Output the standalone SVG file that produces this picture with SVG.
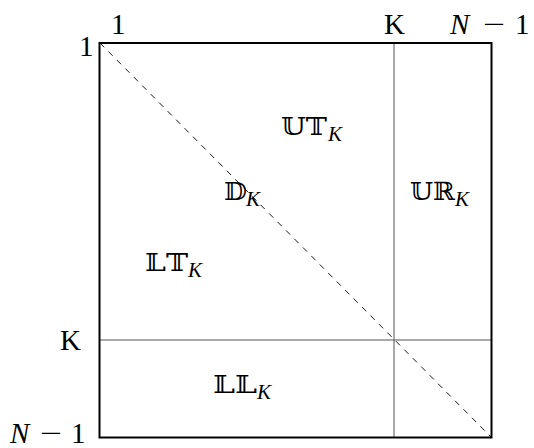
<svg xmlns="http://www.w3.org/2000/svg" width="534" height="448" viewBox="0 0 534 448">
<style>
.t{font-family:"Liberation Serif","DejaVu Serif",serif;font-size:29px;fill:#000}
.m{font-family:"DejaVu Serif","DejaVu Sans",serif;font-size:25px;fill:#000}
.i{font-style:italic}
.s{font-family:"Liberation Serif",serif;font-style:italic;font-size:21px;fill:#000}
</style>
<rect width="534" height="448" fill="#fff"/>
<g id="connectors">
<line x1="394" y1="43" x2="394" y2="437.5" stroke="#555" stroke-width="1"/>
<line x1="99.5" y1="340" x2="491.5" y2="340" stroke="#555" stroke-width="1"/>
<line x1="100" y1="43" x2="491" y2="437" stroke="#000" stroke-width="0.9" stroke-dasharray="6,6"/>
</g>
<g id="frame"><rect x="99.5" y="43" width="392" height="394.5" fill="none" stroke="#000" stroke-width="2"/></g>
<g id="axis-labels">
<text class="t" x="111" y="34">1</text>
<text class="t" x="79" y="56">1</text>
<text class="t" x="384" y="34">K</text>
<text class="t i" x="450" y="34">N</text>
<text class="t" x="483" y="34" textLength="22" lengthAdjust="spacingAndGlyphs">−</text>
<text class="t" x="515" y="34">1</text>
<text class="t" x="60" y="350">K</text>
<text class="t i" x="10" y="443">N</text>
<text class="t" x="40" y="443" textLength="22" lengthAdjust="spacingAndGlyphs">−</text>
<text class="t" x="71" y="443">1</text>
</g>
<g id="UT"><text class="m" x="281" y="135" textLength="46" lengthAdjust="spacingAndGlyphs">𝕌𝕋</text><text class="s" x="328" y="141">K</text></g>
<g id="D"><text class="m" x="224" y="200" textLength="23" lengthAdjust="spacingAndGlyphs">𝔻</text><text class="s" x="246" y="206">K</text></g>
<g id="UR"><text class="m" x="410" y="200" textLength="45" lengthAdjust="spacingAndGlyphs">𝕌ℝ</text><text class="s" x="455" y="206">K</text></g>
<g id="LT"><text class="m" x="145" y="271" textLength="43" lengthAdjust="spacingAndGlyphs">𝕃𝕋</text><text class="s" x="188" y="277">K</text></g>
<g id="LL"><text class="m" x="213" y="393" textLength="44" lengthAdjust="spacingAndGlyphs">𝕃𝕃</text><text class="s" x="257" y="399">K</text></g>
</svg>
